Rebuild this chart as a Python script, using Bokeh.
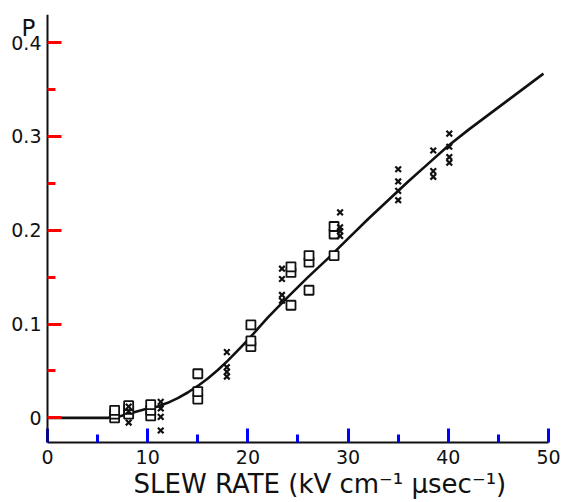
from bokeh.plotting import figure
from bokeh.models import Range1d, FixedTicker, Title
from bokeh.core.properties import value
from bokeh.embed import file_html
from bokeh.resources import INLINE

# ---- data ----
curve_x = [0, 2, 4, 6, 7, 8, 9, 10, 11, 12, 13, 14, 15, 16, 17, 18, 19, 20, 21, 22, 23, 24,
           26, 28, 30, 32, 34, 36, 38, 40, 42, 44, 46, 48, 49.5]
curve_y = [0, 0, 0, 0, 0.001, 0.004, 0.007, 0.010, 0.012, 0.016, 0.021, 0.027, 0.034, 0.042,
           0.051, 0.061, 0.072, 0.083, 0.095, 0.107, 0.118, 0.129, 0.150, 0.170, 0.191, 0.212,
           0.232, 0.252, 0.271, 0.290, 0.307, 0.323, 0.339, 0.355, 0.367]

square_x = [6.7, 6.7, 6.7, 8.1, 8.1, 8.1, 10.3, 10.3, 10.3, 15.0, 15.0, 15.0,
            20.3, 20.3, 20.3, 24.3, 24.3, 24.3, 26.1, 26.1, 26.1, 28.6, 28.6, 28.6]
square_y = [0.000, 0.004, 0.008, 0.004, 0.009, 0.013, 0.002, 0.008, 0.014, 0.020, 0.028, 0.047,
            0.076, 0.082, 0.099, 0.120, 0.155, 0.161, 0.136, 0.166, 0.173, 0.173, 0.196, 0.204]

cross_x = [8.1, 8.1, 8.1, 11.3, 11.3, 11.3, 11.3, 17.9, 17.9, 17.9, 17.9,
           23.4, 23.4, 23.4, 23.4, 29.2, 29.2, 29.2, 29.2, 35.0, 35.0, 35.0, 35.0,
           38.5, 38.5, 38.5, 40.1, 40.1, 40.1, 40.1]
cross_y = [-0.005, 0.007, 0.012, -0.0135, 0.001, 0.010, 0.017, 0.044, 0.049, 0.054, 0.070,
           0.125, 0.131, 0.148, 0.159, 0.194, 0.199, 0.203, 0.219, 0.232, 0.242, 0.252, 0.265,
           0.257, 0.263, 0.285, 0.272, 0.278, 0.289, 0.303]

x_ticks = [0, 10, 20, 30, 40, 50]
x_minor = [5, 15, 25, 35, 45]
y_ticks = [0, 0.1, 0.2, 0.3, 0.4]
y_minor = [0.05, 0.15, 0.25, 0.35]
y_tick_labels = ["0", "0.1", "0.2", "0.3", "0.4"]

x_title = "SLEW RATE (kV cm\u207b\u00b9 \u03bcsec\u207b\u00b9)"
y_title = "P"

X_MIN, X_MAX = 0, 50
Y_MIN, Y_MAX = -0.0263, 0.430
FONT = "DejaVu Sans"
INK = "#111111"

p = figure(width=564, height=502, output_backend="svg", toolbar_location=None,
           x_range=Range1d(-4.69, X_MAX), y_range=Range1d(Y_MIN, Y_MAX),
           min_border_left=0, min_border_right=16, min_border_top=14, min_border_bottom=60)
p.background_fill_color = "white"
p.border_fill_color = "white"
p.outline_line_color = None
p.grid.visible = False

p.line(curve_x, curve_y, line_color=INK, line_width=2.6)
p.scatter(square_x, square_y, marker="square", size=9, fill_color="white",
          line_color=INK, line_width=1.8)
p.scatter(cross_x, cross_y, marker="x", size=8, line_color=INK, line_width=2.2)

xa = p.xaxis[0]
ya = p.yaxis[0]
ya.fixed_location = X_MIN
xa.bounds = (X_MIN, X_MAX)

for ax in (xa, ya):
    ax.axis_line_width = 2
    ax.axis_line_color = INK
    ax.major_tick_in = 14
    ax.major_tick_out = 0
    ax.minor_tick_in = 8
    ax.minor_tick_out = 0
    ax.major_tick_line_width = 3
    ax.minor_tick_line_width = 3
    ax.major_label_text_font = FONT
    ax.major_label_text_font_size = "19px"
    ax.major_label_text_color = INK

ya.major_tick_line_color = "red"
ya.minor_tick_line_color = "red"
xa.major_tick_line_color = "blue"
xa.minor_tick_line_color = "blue"

xa.ticker = FixedTicker(ticks=x_ticks, minor_ticks=x_minor)
ya.ticker = FixedTicker(ticks=y_ticks, minor_ticks=y_minor)
ya.major_label_overrides = dict(zip(y_ticks, y_tick_labels))
xa.major_label_standoff = 7
ya.major_label_standoff = 6

p.text(x=[X_MIN], y=[Y_MAX], text=[y_title], x_offset=-12, text_align="right",
       text_baseline="top", text_font=value(FONT), text_font_size="23px", text_color=INK)

p.add_layout(Title(text=x_title, align="left", offset=133, standoff=0,
                   text_font=FONT, text_font_size="26px", text_font_style="normal",
                   text_color=INK), "below")

open("out.html", "w").write(file_html(p, INLINE))
